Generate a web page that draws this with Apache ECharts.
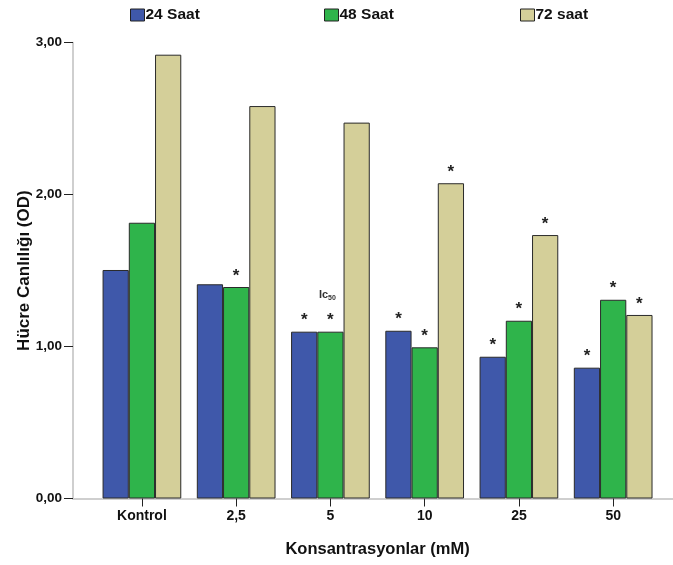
<!DOCTYPE html>
<html>
<head>
<meta charset="utf-8">
<script src="https://cdn.jsdelivr.net/npm/echarts@6/dist/echarts.min.js"></script>
<style>html,body{margin:0;padding:0;background:#fff}#c{width:673px;height:565px}</style>
</head>
<body>
<div id="c"></div>
<script>
const categories = ['Kontrol', '2,5', '5', '10', '25', '50'];
const s24 = [1.504, 1.410, 1.098, 1.104, 0.933, 0.861];
const s48 = [1.815, 1.392, 1.098, 0.995, 1.170, 1.308];
const s72 = [2.921, 2.583, 2.474, 2.075, 1.734, 1.208];
const star24 = [false, false, true, true, true, true];
const star48 = [false, true, true, true, true, true];
const star72 = [false, false, false, true, true, true];
const icIndex = 2; // Ic50 note above 48 Saat at '5'
const yTicks = [0, 1, 2, 3];

const FONT = 'Liberation Sans';
const chart = echarts.init(document.getElementById('c'));

function mkSeries(name, data, stars, color, withIc) {
  return {
    name: name, type: 'bar', xAxisIndex: 0, yAxisIndex: 0,
    data: data.map((v, i) => ({
      value: v,
      label: {
        show: stars[i],
        formatter: (withIc && i === icIndex) ? '{ic|Ic}{sub|50}\n{st|*}' : '{st|*}'
      }
    })),
    barGap: '0%', barCategoryGap: '16.5%',
    itemStyle: { color: color, borderColor: '#2a2a2a', borderWidth: 1 },
    label: {
      position: 'top', distance: 3,
      rich: {
        st: { fontFamily: FONT, fontWeight: 'bold', fontSize: 17, color: '#222', lineHeight: 16 },
        ic: { fontFamily: FONT, fontWeight: 'bold', fontSize: 11, color: '#333', lineHeight: 36, padding: [0, 0, 0, 0] },
        sub: { fontFamily: FONT, fontWeight: 'bold', fontSize: 7, color: '#333', padding: [6, 6, 0, 0] }
      }
    },
    emphasis: { disabled: true }
  };
}

function legendAt(name, left) {
  return {
    data: [name], left: left, top: 2, itemWidth: 14, itemHeight: 12, itemGap: 3,
    icon: 'rect', selectedMode: false,
    textStyle: { fontFamily: FONT, fontWeight: 'bold', fontSize: 15.5, color: '#111', padding: [0, 0, 0, -4] },
    itemStyle: { borderColor: '#222', borderWidth: 1 }
  };
}

chart.setOption({
  backgroundColor: '#fff',
  animation: false,
  legend: [legendAt('24 Saat', 125), legendAt('48 Saat', 319), legendAt('72 saat', 515)],
  grid: [
    { left: 94.8, top: 42.7, width: 565.5, height: 455.8 },
    { left: 73, top: 42.7, right: 0, height: 455.8 }
  ],
  xAxis: [
    {
      gridIndex: 0, type: 'category', data: categories,
      axisLine: { show: false },
      axisTick: { show: true, alignWithLabel: true, length: 8, inside: false, lineStyle: { color: '#222', width: 1 } },
      axisLabel: { fontFamily: FONT, fontWeight: 'bold', fontSize: 14, color: '#111', margin: 11 },
      name: 'Konsantrasyonlar (mM)', nameLocation: 'middle', nameGap: 42,
      nameTextStyle: { fontFamily: FONT, fontWeight: 'bold', fontSize: 16.5, color: '#111' }
    },
    {
      gridIndex: 1, type: 'value', min: 0, max: 1,
      axisLine: { show: true, lineStyle: { color: '#cfcfcf', width: 2 } },
      axisTick: { show: false }, axisLabel: { show: false }, splitLine: { show: false }
    }
  ],
  yAxis: [
    { gridIndex: 0, type: 'value', min: 0, max: 3, show: false, splitLine: { show: false } },
    {
      gridIndex: 1, type: 'value', min: 0, max: 3, interval: 1,
      axisLine: { show: true, lineStyle: { color: '#cfcfcf', width: 2 } },
      axisTick: { show: true, length: 9, lineStyle: { color: '#222', width: 1 } },
      splitLine: { show: false },
      axisLabel: {
        fontFamily: FONT, fontWeight: 'bold', fontSize: 13.5, color: '#111', margin: 11,
        formatter: v => yTicks.includes(v) ? v.toFixed(2).replace('.', ',') : ''
      },
      name: 'Hücre Canlılığı (OD)', nameLocation: 'middle', nameGap: 40, nameRotate: 90,
      nameMoveOverlap: false,
      nameTextStyle: { fontFamily: FONT, fontWeight: 'bold', fontSize: 17, color: '#111' }
    }
  ],
  series: [
    mkSeries('24 Saat', s24, star24, '#3f58aa', false),
    mkSeries('48 Saat', s48, star48, '#2fb44b', true),
    mkSeries('72 saat', s72, star72, '#d4cf99', false)
  ]
});
</script>
</body>
</html>
